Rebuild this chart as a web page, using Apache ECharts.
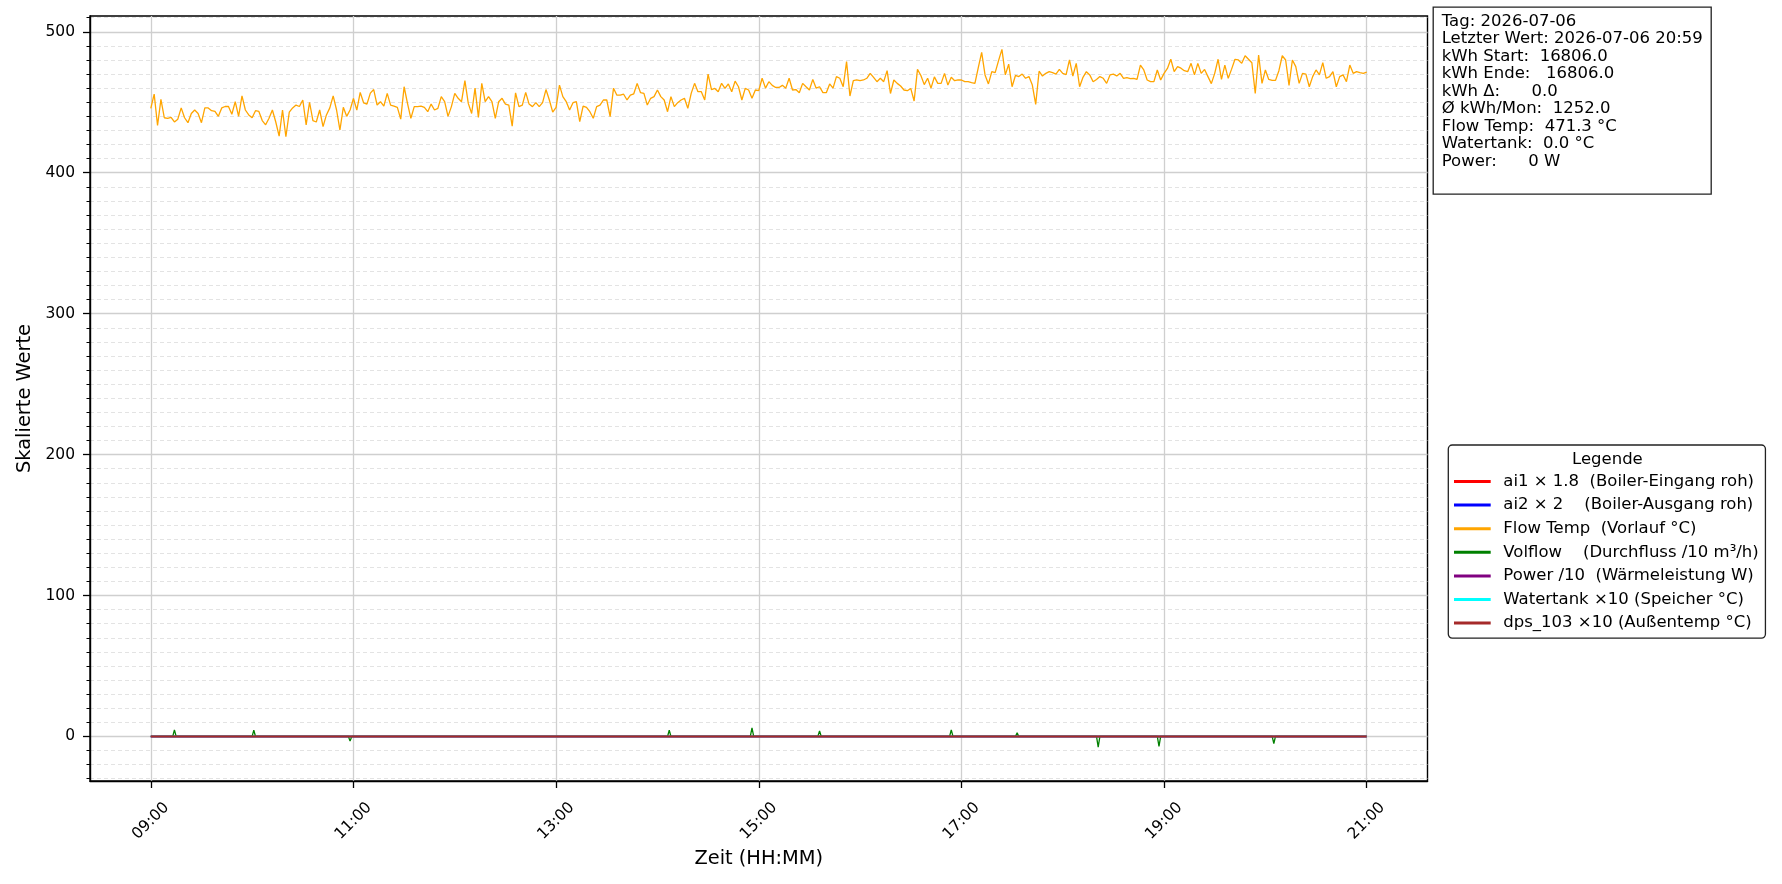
<!DOCTYPE html>
<html>
<head>
<meta charset="utf-8">
<script src="https://cdn.jsdelivr.net/npm/echarts@6/dist/echarts.min.js"></script>
<style>html,body{margin:0;padding:0;background:#fff}#chart{width:1782px;height:884px}</style>
</head>
<body>
<div id="chart"></div>
<script>
// ---------- DATA ----------
const flowStart = "09:00";
const flowStepMinutes = 2;
const flowTemp = [
445.7,455.8,433.5,452,439,438.6,439.3,436,438,446,
439,435.5,442,444.5,442,435.5,446,446,444,443.5,
440,446,447,447,441.5,450.5,440,454.5,444.5,441,
439,444,443.5,437,434,438.6,444.5,436,426,444.5,
425.5,443,446,448,447,451.6,434,450,437,436,
444.5,432.7,441,446,454.5,444.5,430.3,446.4,440,444.5,
452.7,444.5,457,449.6,448.7,456.5,459,448,450.4,447.3,
456.3,448,447.3,446.4,438,461,449.2,438.6,446.9,446.9,
447.3,446.4,443.3,448.7,444.5,445.7,454,450.4,440,
446.9,456.3,452.8,450.4,465.3,449.2,442,460,439.3,463.4,
450.4,454,450.4,438.6,450.4,452.8,448.7,448,433,456.7,
446.9,448,457,448.7,446.9,449.7,446.9,449.7,459,451.6,
443,446.4,462.2,454,450.4,444.5,449.7,450.4,436.3,447.3,
446.4,443.3,438.6,446.9,448,451.6,451.6,439.8,460,455,
455,455.7,451.6,455,456,463.4,456.8,456.3,448,452.8,
454,458.7,454,451.6,443.3,454,446.9,449.7,451.6,452.8,
445.7,456.3,463.4,457.5,457.5,451.6,470,459,459.8,457.5,
463.4,459.8,463,457.5,465,461,451.6,459.8,458.7,452.8,
458.7,
458.2,467,460,464.6,462,460.5,460.5,462,460,467,
458.7,459,456.8,463.4,461,458.7,466.2,460,461,456.8,
456.8,463,460,468.2,467,461,478.8,454.4,465.3,465.8,
465.3,465.8,467,470.5,467.7,464.6,467,464.6,472.4,456.2,
465.8,463.4,461.5,458.7,458.2,459.8,450.9,473.3,469,462.5,
467,460,468,463.4,463.4,470.5,462.2,467.7,465.3,465.8,
465.8,464.6,464.6,463.9,463.4,474.6,485.4,469.4,463,471.7,
471,479.5,487.5,469.4,477,461,469,468.2,470,467,
468.2,462.2,448.5,472,468.6,470.5,471.7,471,470,473.3,
470.5,469.6,480,468.6,477.6,461,467.7,471.7,469.4,464.6,
466.2,468.2,467,463.4,469.4,470,468.6,470.5,467,467.5,
466.7,467,466.2,476.4,472.9,465.8,464.6,464.6,472.9,465.8,
470.5,474,480.5,471.7,475.3,474.2,472.4,471.7,477.6,469.4,
477.6,470.5,473.3,468.2,463.2,470.5,480.5,466.2,476.4,467,
473.5,480.5,480,477.6,483,480.5,478,456.3,483.5,463.4,
472.9,466.2,465.5,465.5,472.4,483,480,462,480,475.3,
463.4,470.5,470,461,468.2,472.9,469.4,478.1,467,468.2,
471.7,461,468.2,469.4,464.6,476.4,470.5,471.7,471,470.5,471.3
];

const volflowTimes = ["09:00","09:13","09:14","09:15","10:00","10:01","10:02","10:57","10:58","10:59",
  "14:06","14:07","14:08","14:55","14:56","14:57","15:35","15:36","15:37","16:53","16:54","16:55",
  "17:32","17:33","17:34","18:20","18:21","18:22","18:56","18:57","18:58","20:04","20:05","20:06","21:00"];
const volflowValues = [0,0,4.7,0,0,4.5,0,0,-3.3,0,
  0,4.5,0,0,6.1,0,0,4.0,0,0,4.7,0,
  0,2.6,0,0,-7.6,0,0,-7.1,0,0,-5.0,0,0];

const flatTimes = ["09:00","21:00"];
const ai1Values = [0,0];
const ai2Values = [0,0];
const powerValues = [0,0];
const watertankValues = [0,0];
const dpsValues = [0,0];

const seriesNames = [
  "ai1 × 1.8  (Boiler-Eingang roh)",
  "ai2 × 2    (Boiler-Ausgang roh)",
  "Flow Temp  (Vorlauf °C)",
  "Volflow    (Durchfluss /10 m³/h)",
  "Power /10  (Wärmeleistung W)",
  "Watertank ×10 (Speicher °C)",
  "dps_103 ×10 (Außentemp °C)"
];
const xTickLabels = ["09:00","11:00","13:00","15:00","17:00","19:00","21:00"];
const yTickValues = [0,100,200,300,400,500];
const infoLines = [
  "Tag: 2026-07-06",
  "Letzter Wert: 2026-07-06 20:59",
  "kWh Start:  16806.0",
  "kWh Ende:   16806.0",
  "kWh Δ:      0.0",
  "Ø kWh/Mon:  1252.0",
  "Flow Temp:  471.3 °C",
  "Watertank:  0.0 °C",
  "Power:      0 W"
];

// ---------- HELPERS ----------
function toMin(s){const p=s.split(':');return (+p[0])*60+(+p[1]);}
function fmt(m){const h=Math.floor(m/60),mm=Math.round(m-h*60);return String(h).padStart(2,'0')+':'+String(mm).padStart(2,'0');}
function pairs(times, vals){return times.map((t,i)=>[toMin(t), vals[i]]);}

const flowData = flowTemp.map((v,i)=>[toMin(flowStart)+i*flowStepMinutes, v]);
const xTicks = xTickLabels.map(toMin);
const minorTicks = [];
for (let v=-30; v<=510; v+=10){ if (v%100!==0) minorTicks.push(v); }

const FONT = "DejaVu Sans";
const colors = ['#ff0000','#0000ff','#ffa500','#008000','#800080','#00ffff','#a52a2a'];
const seriesData = [
  pairs(flatTimes, ai1Values),
  pairs(flatTimes, ai2Values),
  flowData,
  pairs(volflowTimes, volflowValues),
  pairs(flatTimes, powerValues),
  pairs(flatTimes, watertankValues),
  pairs(flatTimes, dpsValues)
];
const widths = [1.5,1.5,1.3,1.3,1.5,1.5,2];

const chart = echarts.init(document.getElementById('chart'), null, {renderer:'canvas'});
const option = {
  animation: false,
  backgroundColor: '#ffffff',
  textStyle: {fontFamily: FONT},
  title: [
    {
      text: infoLines.join('\n'),
      left: 1432.7, top: 6.7,
      padding: [6, 9, 24, 9],
      borderColor: '#222', borderWidth: 1.3, backgroundColor: '#fff',
      textStyle: {fontSize: 16.5, lineHeight: 17.5, fontWeight: 'normal', color: '#000', fontFamily: FONT}
    },
    {
      text: 'Legende',
      left: 1572, top: 450.5, padding: 0,
      textStyle: {fontSize: 16.5, lineHeight: 18, fontWeight: 'normal', color: '#000', fontFamily: FONT}
    }
  ],
  legend: {
    orient: 'vertical',
    left: 1448.3, top: 445,
    padding: [27.5, 6.7, 6, 5.7],
    itemWidth: 36.7, itemHeight: 3, itemGap: 5.6,
    icon: 'rect',
    selectedMode: false,
    backgroundColor: '#fff', borderColor: '#222', borderWidth: 1.3, borderRadius: 4,
    textStyle: {fontSize: 16.5, lineHeight: 18, color: '#000', fontFamily: FONT, padding: [0,0,0,7.6]},
    data: seriesNames
  },
  grid: {left: 90, right: 354.5, top: 16, bottom: 103, show: true, borderColor: '#000', borderWidth: 1.4},
  xAxis: {
    type: 'value',
    min: toMin('08:24'), max: toMin('21:36'),
    name: 'Zeit (HH:MM)', nameLocation: 'middle', nameGap: 66,
    nameTextStyle: {fontSize: 19.4, color: '#000', fontFamily: FONT},
    axisLine: {show: true, onZero: false, lineStyle: {color: '#000', width: 1.4}},
    axisTick: {show: true, customValues: xTicks, length: 7, lineStyle: {color: '#000', width: 1.3}},
    axisLabel: {customValues: xTicks, formatter: fmt, rotate: 45, align: 'center', verticalAlign: 'middle',
                margin: 40, fontSize: 15.5, color: '#000', fontFamily: FONT},
    splitLine: {show: true, lineStyle: {color: '#cfcfcf', width: 1.3}}
  },
  yAxis: [
    {
      type: 'value', position: 'left',
      min: -31.6, max: 511.2,
      name: 'Skalierte Werte', nameLocation: 'middle', nameGap: 56, nameRotate: 90,
      nameTextStyle: {fontSize: 19.4, color: '#000', fontFamily: FONT},
      axisLine: {show: true, onZero: false, lineStyle: {color: '#000', width: 1.4}},
      axisTick: {show: true, customValues: yTickValues, length: 7, lineStyle: {color: '#000', width: 1.3}},
      axisLabel: {customValues: yTickValues, margin: 15, fontSize: 15.5, color: '#000', fontFamily: FONT},
      splitLine: {show: true, lineStyle: {color: '#cfcfcf', width: 1.3}}
    },
    {
      type: 'value', position: 'left',
      min: -31.6, max: 511.2,
      axisLine: {show: false},
      axisTick: {show: true, customValues: minorTicks, length: 3.5, lineStyle: {color: '#000', width: 1}},
      axisLabel: {show: false},
      splitLine: {show: true, lineStyle: {color: '#dcdcdc', width: 0.8, type: [4, 3]}}
    }
  ],
  series: seriesNames.map((n,i)=>({
    name: n, type: 'line', xAxisIndex: 0, yAxisIndex: 0,
    data: seriesData[i], showSymbol: false, symbol: 'none',
    color: colors[i], z: 2 + i * 0.01,
    lineStyle: {color: colors[i], width: widths[i]},
    emphasis: {disabled: true}
  }))
};
chart.setOption(option);
</script>
</body>
</html>
